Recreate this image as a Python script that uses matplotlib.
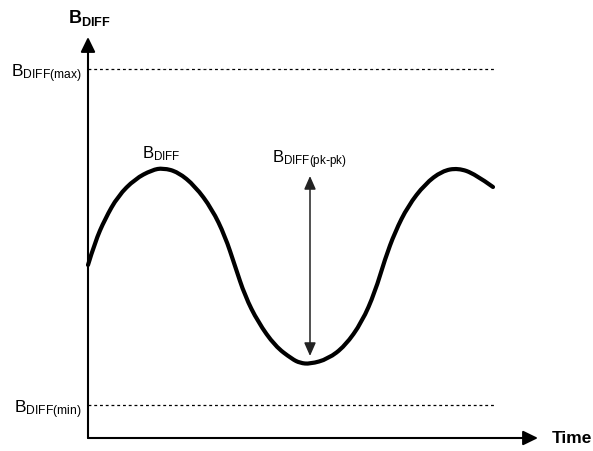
import matplotlib
matplotlib.use("Agg")
import matplotlib.pyplot as plt
from matplotlib.path import Path
from matplotlib.patches import PathPatch

plt.rcParams['font.family'] = ['Liberation Sans', 'DejaVu Sans']

# curve (time, B), origin at the axes corner
t_curve = [0, 7, 17, 30, 47, 64, 75, 90, 107, 124, 137, 147, 157, 170, 187,
           204, 212, 222, 240, 257, 274, 287, 297, 307, 320, 337, 354, 370, 387, 405]
b_curve = [173, 196, 219, 242, 259, 268, 270, 266, 252, 229, 202, 172, 142, 116, 92,
           79, 75, 74, 79, 92, 116, 146, 179, 206, 232, 254, 267, 270, 264, 251]

b_max = 369
b_min = 33
t_end = 406
t_pkpk = 222
pkpk_low = 82
pkpk_high = 262
t_axis_end = 450
b_axis_end = 401

level_labels = [r'$\mathregular{B_{DIFF(max)}}$', r'$\mathregular{B_{DIFF(min)}}$']
level_values = [b_max, b_min]

fig = plt.figure(figsize=(5.93, 4.52), dpi=100)
ax = fig.add_axes([0, 0, 1, 1])
ax.set_xlim(-88, 505)
ax.set_ylim(-13, 439)
ax.axis('off')

# axes with arrows
arrow_kw = dict(arrowstyle='-|>,head_length=0.45,head_width=0.22', lw=1.5,
                color='black', mutation_scale=20, shrinkA=0, shrinkB=0)
ax.annotate('', xy=(0, b_axis_end), xytext=(0, 0), arrowprops=arrow_kw)
ax.annotate('', xy=(t_axis_end, 0), xytext=(0, 0), arrowprops=arrow_kw)

ax.text(-20, 416, r'$\mathregular{B_{DIFF}}$', fontsize=13, fontweight='bold',
        ha='left', va='baseline')
ax.text(464, 0, 'Time', fontsize=12.5, fontweight='bold', ha='left', va='center')

# max / min levels
for lab, val in zip(level_labels, level_values):
    ax.plot([0, t_end], [val, val], color='black', lw=0.9, linestyle=(0, (2.3, 2.3)))
    ax.text(-6, val - 7, lab, fontsize=12.5, ha='right', va='baseline')

# the signal: read points used as quadratic bezier control points
pts = list(zip(t_curve, b_curve))
verts = [pts[0]]
codes = [Path.MOVETO]
for i in range(1, len(pts) - 1):
    nxt = pts[i + 1] if i == len(pts) - 2 else ((pts[i][0] + pts[i + 1][0]) / 2,
                                                (pts[i][1] + pts[i + 1][1]) / 2)
    verts += [pts[i], nxt]
    codes += [Path.CURVE3, Path.CURVE3]
ax.add_patch(PathPatch(Path(verts, codes), facecolor='none', edgecolor='black',
                       lw=3, capstyle='round', joinstyle='round'))
ax.text(54, 281, r'$\mathregular{B_{DIFF}}$', fontsize=12, ha='left', va='baseline')

# peak to peak
pk_kw = dict(arrowstyle='<|-|>,head_length=0.5,head_width=0.22', lw=1.1,
             color='#222222', mutation_scale=16, shrinkA=0, shrinkB=0)
ax.annotate('', xy=(t_pkpk, pkpk_high), xytext=(t_pkpk, pkpk_low), arrowprops=pk_kw)
ax.text(184, 276, r'$\mathregular{B_{DIFF(pk\text{-}pk)}}$', fontsize=12,
        ha='left', va='baseline')

fig.savefig('out.png', dpi=100)
